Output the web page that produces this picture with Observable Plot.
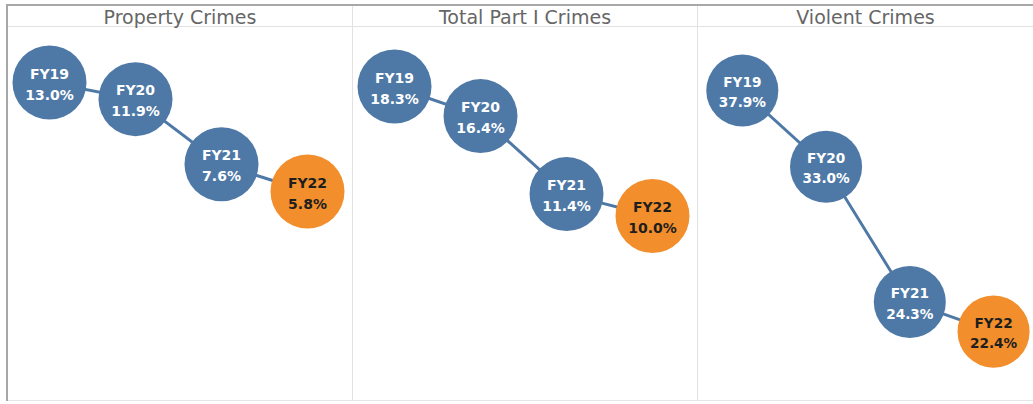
<!DOCTYPE html>
<html>
<head>
<meta charset="utf-8">
<script src="https://cdn.jsdelivr.net/npm/d3@7"></script>
<script src="https://cdn.jsdelivr.net/npm/@observablehq/plot@0.6"></script>
<style>
  html, body { margin: 0; padding: 0; background: #fff; }
  #frame {
    position: absolute; left: 6px; top: 4px; width: 1027px;
    border-top: 2px solid #a8a8a8; border-left: 2px solid #a8a8a8;
    display: flex; overflow: hidden;
  }
  .panel { width: 344px; flex: none; border-right: 1px solid #e2e2e2; }
  .panel:last-child { border-right: none; width: 335px; }
  .title {
    height: 19px; padding-top: 1px; border-bottom: 1px solid #e2e2e2;
    font-family: "DejaVu Sans", sans-serif; font-size: 19px; color: #666666;
    text-align: center; line-height: 20px; white-space: nowrap; overflow: visible;
  }
  .body { height: 373px; border-bottom: 1px solid #e6e6e6; }
  .body svg { display: block; overflow: visible; }
</style>
</head>
<body>
<div id="frame"></div>
<script>
const years = ["FY19", "FY20", "FY21", "FY22"];
const categories = ["Property Crimes", "Total Part I Crimes", "Violent Crimes"];
const propertyValues = [13.0, 11.9, 7.6, 5.8];
const totalValues = [18.3, 16.4, 11.4, 10.0];
const violentValues = [37.9, 33.0, 24.3, 22.4];
const seriesValues = [propertyValues, totalValues, violentValues];
// independent y axis per panel (as in the original)
const yDomains = [[-8.0, 16.63], [-1.83, 22.08], [18.6, 41.95]];
const leftMargins = [41, 41, 45];

const blue = "#4e79a7", orange = "#f28e2b";
const frame = document.getElementById("frame");

categories.forEach((cat, i) => {
  const data = years.map((fy, j) => ({fy, value: seriesValues[i][j], latest: j === years.length - 1}));
  const panel = document.createElement("div");
  panel.className = "panel";
  const title = document.createElement("div");
  title.className = "title";
  title.textContent = cat;
  panel.appendChild(title);
  const body = document.createElement("div");
  body.className = "body";
  const chart = Plot.plot({
    width: 344,
    height: 373,
    marginLeft: leftMargins[i],
    marginRight: 344 - leftMargins[i] - 258,
    marginTop: 0,
    marginBottom: 0,
    x: {type: "point", domain: years, padding: 0, axis: null},
    y: {domain: yDomains[i], range: [373, 0], axis: null},
    marks: [
      Plot.line(data, {x: "fy", y: "value", stroke: blue, strokeWidth: 3}),
      Plot.dot(data, {x: "fy", y: "value", r: 37, fill: d => d.latest ? orange : blue, stroke: "none"}),
      Plot.text(data, {
        x: "fy", y: "value",
        text: d => `${d.fy}\n${d.value.toFixed(1)}%`,
        fill: d => d.latest ? "#1e1e1e" : "#ffffff",
        fontSize: 14, fontWeight: "bold", fontFamily: "DejaVu Sans",
        lineHeight: 1.5, lineAnchor: "middle", textAnchor: "middle"
      })
    ]
  });
  body.appendChild(chart);
  panel.appendChild(body);
  frame.appendChild(panel);
});
</script>
</body>
</html>
